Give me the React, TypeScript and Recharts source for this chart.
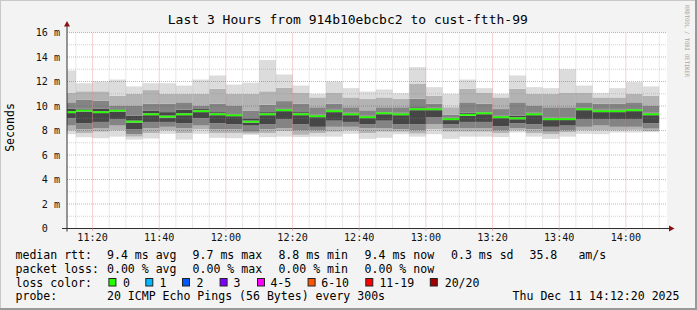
import React from 'react';
import { ComposedChart, Bar, XAxis, YAxis, CartesianGrid, ReferenceLine, ReferenceDot } from 'recharts';

// ---------- data ----------
const SLOT_STARTS = ["11:10","11:15","11:20","11:25","11:30","11:35","11:40","11:45","11:50","11:55",
  "12:00","12:05","12:10","12:15","12:20","12:25","12:30","12:35","12:40","12:45","12:50","12:55",
  "13:00","13:05","13:10","13:15","13:20","13:25","13:30","13:35","13:40","13:45","13:50","13:55",
  "14:00","14:05"];

const MAX_V = [12.9, 11.86, 12.0, 12.16, 11.6, 11.86, 11.86, 11.67, 12.16, 12.49, 11.75, 11.9, 13.75, 12.57, 11.67, 11.0, 12.0, 11.46, 11.18, 11.35, 11.05, 13.17, 11.54, 11.0, 12.16, 11.46, 11.0, 12.49, 11.54, 11.46, 13.0, 11.67, 11.07, 11.46, 11.95, 11.6];
const HI1 = [11.1, 11.2, 11.2, 10.85, 11.0, 11.3, 11.0, 11.0, 11.0, 11.4, 11.0, 11.0, 11.2, 11.5, 11.1, 10.7, 11.1, 10.7, 10.6, 10.7, 10.6, 11.8, 10.85, 9.9, 11.4, 11.1, 10.7, 11.4, 11.0, 11.0, 11.1, 11.1, 10.7, 10.7, 11.0, 10.85];
const HI2 = [10.3, 10.5, 10.45, 10.0, 10.0, 10.2, 10.2, 10.3, 10.0, 10.2, 10.0, 9.6, 10.1, 10.4, 10.2, 9.9, 10.2, 9.9, 9.65, 9.9, 9.9, 10.6, 10.2, 9.3, 10.3, 10.2, 9.75, 10.3, 10.0, 9.9, 9.9, 10.3, 10.2, 10.2, 10.3, 10.0];
const HI3 = [9.8, 9.8, 9.8, 9.75, 9.2, 9.6, 9.5, 9.7, 9.75, 9.5, 9.4, 9.0, 9.5, 9.8, 9.5, 9.3, 9.7, 9.45, 9.2, 9.5, 9.45, 9.9, 9.85, 9.05, 9.45, 9.5, 9.2, 9.2, 9.45, 9.05, 9.05, 9.85, 9.7, 9.7, 9.75, 9.45];
const MEDIAN = [9.5, 9.63, 9.5, 9.63, 8.73, 9.33, 9.14, 9.33, 9.58, 9.33, 9.25, 8.73, 9.33, 9.66, 9.33, 9.17, 9.58, 9.33, 9.09, 9.41, 9.33, 9.74, 9.74, 8.93, 9.28, 9.41, 9.09, 9.0, 9.33, 8.93, 8.93, 9.74, 9.58, 9.58, 9.66, 9.33];
const LO3 = [9.0, 8.6, 8.7, 8.9, 8.1, 8.7, 8.7, 8.6, 9.0, 8.6, 8.5, 8.4, 8.5, 8.9, 8.5, 8.3, 8.8, 8.7, 8.5, 8.8, 8.5, 8.5, 9.1, 8.5, 8.7, 8.7, 8.35, 8.6, 8.5, 8.3, 8.4, 8.9, 8.9, 8.9, 8.9, 8.6];
const LO2 = [8.4, 8.1, 8.2, 8.4, 7.7, 8.2, 8.3, 8.2, 8.4, 8.1, 8.1, 7.9, 8.1, 8.2, 8.0, 8.0, 8.3, 8.3, 8.2, 8.2, 8.1, 8.0, 8.5, 8.2, 8.2, 8.2, 8.0, 8.2, 8.1, 7.9, 8.0, 8.3, 8.4, 8.3, 8.3, 8.15];
const LO1 = [8.0, 7.8, 7.9, 8.0, 7.5, 7.8, 8.0, 7.8, 8.1, 7.8, 7.8, 7.75, 7.8, 7.95, 7.65, 7.8, 7.9, 8.0, 7.8, 7.9, 7.9, 7.75, 8.1, 7.9, 7.9, 7.9, 7.8, 8.0, 7.8, 7.7, 7.85, 8.0, 8.0, 8.0, 8.05, 7.95];
const MIN_V = [7.7, 7.45, 7.37, 7.5, 7.26, 7.35, 7.73, 7.26, 7.73, 7.4, 7.37, 7.65, 7.46, 7.5, 7.46, 7.5, 7.5, 7.73, 7.32, 7.4, 7.7, 7.5, 7.7, 7.32, 7.5, 7.5, 7.46, 7.84, 7.5, 7.32, 7.5, 7.73, 7.7, 7.84, 7.84, 7.86];

const X_TICK_LABELS = ["11:20","11:40","12:00","12:20","12:40","13:00","13:20","13:40","14:00"];
const Y_TICKS = [0, 2, 4, 6, 8, 10, 12, 14, 16];
const Y_MINOR = [1, 3, 5, 7, 9, 11, 13, 15];
const RANGE_START = "11:12:20";
const RANGE_END = "14:12:20";
const STEP_MIN = 5;

const TITLE = "Last 3 Hours from 914b10ebcbc2 to cust-ftth-99";
const RTT_LABEL = "median rtt:";
const RTT_STATS = ["9.4 ms avg", "9.7 ms max", "8.8 ms min", "9.4 ms now", "0.3 ms sd", "35.8", "am/s"];
const LOSS_LABEL = "packet loss:";
const LOSS_STATS = ["0.00 % avg", "0.00 % max", "0.00 % min", "0.00 % now"];
const COLOR_LABEL = "loss color:";
const LOSS_LABELS = ["0", "1", "2", "3", "4-5", "6-10", "11-19", "20/20"];
const LOSS_COLORS = ["#26ff00", "#00b8ff", "#0059ff", "#7e00ff", "#ff00ff", "#ff5500", "#ff0000", "#a00000"];
const PROBE_LABEL = "probe:";
const PROBE_TEXT = "20 ICMP Echo Pings (56 Bytes) every 300s";
const DATE_TEXT = "Thu Dec 11 14:12:20 2025";
const WATERMARK = "RRDTOOL / TOBI OETIKER";

// ---------- layout / style ----------
const W = 697, H = 310;
const M_TOP = 32.5, M_RIGHT = 30, Y_AXIS_W = 67, X_AXIS_H = 81.5;
const PLOT_W = W - Y_AXIS_W - M_RIGHT;
const MONO = '"DejaVu Sans Mono", monospace';
const C1 = '#dcdcdc', C2 = '#b3b3b3', C3 = '#848484', C4 = '#464646', GREEN = '#26ff00';
const AXIS = '#303030', ARROW = '#8a1010';
const MINOR_GRID = 'rgba(140,140,140,0.38)';
const MAJOR_GRID = 'rgba(210,40,40,0.42)';
const MEDIAN_W = 0.16;

const toMin = (s: string) => {
  const p = s.split(':').map(Number);
  return (p[0] - 11) * 60 + p[1] + (p[2] || 0) / 60;
};
const X0 = toMin(RANGE_START), X1 = toMin(RANGE_END);
const X_TICKS = X_TICK_LABELS.map(toMin);
const X_MINOR: number[] = [];
for (let m = Math.ceil(X0 / STEP_MIN) * STEP_MIN; m <= X1; m += STEP_MIN) {
  if (!X_TICKS.includes(m)) X_MINOR.push(m);
}
// slightly under the band size so Recharts keeps the explicit size
const BAR_W = PLOT_W * STEP_MIN / (X1 - X0) - 0.02;

const data = SLOT_STARTS.map((s, i) => {
  const gLo = MEDIAN[i] - MEDIAN_W / 2, gHi = MEDIAN[i] + MEDIAN_W / 2;
  return {
    t: toMin(s) + STEP_MIN / 2,
    base: MIN_V[i],
    a1: LO1[i] - MIN_V[i],
    a2: LO2[i] - LO1[i],
    a3: LO3[i] - LO2[i],
    a4: Math.max(0, gLo - LO3[i]),
    g: MEDIAN_W,
    b4: Math.max(0, HI3[i] - gHi),
    b3: HI2[i] - HI3[i],
    b2: HI1[i] - HI2[i],
    b1: MAX_V[i] - HI1[i],
  };
});

const fmtX = (v: number) => X_TICK_LABELS[X_TICKS.indexOf(v)] ?? '';

const YTick = (p: any) => {
  const v = p.payload.value;
  const label = v === 0 ? '0  ' : `${v} m`;
  return (
    <text x={p.x} y={p.y} dy="0.36em" textAnchor="end" fontFamily={MONO} fontSize={10.1}
      fill="#111" style={{ whiteSpace: 'pre' }} xmlSpace="preserve">{label}</text>
  );
};

const YArrow = (p: any) => {
  const { cx, cy } = p;
  return (
    <g>
      <line x1={cx} y1={cy} x2={cx} y2={cy - 7} stroke={AXIS} strokeWidth={1} />
      <polygon points={`${cx - 3},${cy - 6} ${cx + 3},${cy - 6} ${cx},${cy - 11.5}`} fill={ARROW} />
    </g>
  );
};
const XArrow = (p: any) => {
  const { cx, cy } = p;
  return (
    <g>
      <line x1={cx} y1={cy} x2={cx + 3} y2={cy} stroke={AXIS} strokeWidth={1} />
      <polygon points={`${cx + 2},${cy - 3} ${cx + 2},${cy + 3} ${cx + 7.5},${cy}`} fill={ARROW} />
    </g>
  );
};
const Origin = (p: any) => {
  const { cx, cy } = p;
  return (
    <g>
      <line x1={cx - 5} y1={cy} x2={cx} y2={cy} stroke={AXIS} strokeWidth={1} />
      <line x1={cx} y1={cy} x2={cx} y2={cy + 3} stroke={AXIS} strokeWidth={1} />
    </g>
  );
};

const segs: [string, string][] = [
  ['base', 'transparent'], ['a1', C1], ['a2', C2], ['a3', C3], ['a4', C4], ['g', GREEN],
  ['b4', C4], ['b3', C3], ['b2', C2], ['b1', C1],
];

const RTT_X = [107, 192.6, 278.4, 364.6, 451, 529.5, 578.4];
const LOSS_X = [107, 192.6, 278.4, 364.6];
const BOX_X = [108.4, 145.3, 182, 219.6, 257, 307.6, 365.3, 429.8];
const BOX_LABEL_X = [123, 159.4, 196.4, 233.4, 270.4, 321.2, 379.4, 444.7];
const ROW_Y = [258.5, 272.5, 286.5, 300];

export default function App() {
  const txt = (x: number, y: number, s: string, key?: any) => (
    <text key={key} x={x} y={y} fontFamily={MONO} fontSize={11.55} fill="#000"
      style={{ whiteSpace: 'pre' }} xmlSpace="preserve">{s}</text>
  );
  return (
    <div style={{ position: 'absolute', left: 0, top: 0, width: W, height: H, background: '#f3f3f3', overflow: 'hidden' }}>
      <div style={{ position: 'absolute', left: 0, top: 0 }}>
        <ComposedChart width={W} height={H} data={data} margin={{ top: M_TOP, right: M_RIGHT, left: 0, bottom: 0 }}
          barCategoryGap={0} barGap={0}>
          <CartesianGrid fill="#ffffff" horizontal={false} vertical={false} />
          <XAxis type="number" dataKey="t" domain={[X0, X1]} allowDataOverflow ticks={X_TICKS}
            tickFormatter={fmtX} height={X_AXIS_H} interval={0}
            axisLine={{ stroke: AXIS }} tickLine={{ stroke: '#e09a9a' }} tickSize={2} tickMargin={3.6}
            tick={{ fontFamily: MONO, fontSize: 10.1, fill: '#111' }} />
          <YAxis type="number" domain={[0, 16]} ticks={Y_TICKS} width={Y_AXIS_W} interval={0}
            axisLine={{ stroke: AXIS }} tickLine={false} tickSize={0} tickMargin={7} tick={<YTick />} />
          {segs.map(([k, c]) => (
            <Bar key={k} dataKey={k} stackId="s" fill={c} barSize={BAR_W} isAnimationActive={false} />
          ))}
          {Y_MINOR.map(v => <ReferenceLine key={'ym' + v} y={v} stroke={MINOR_GRID} strokeDasharray="1 1" />)}
          {X_MINOR.map(v => <ReferenceLine key={'xm' + v} x={v} stroke={MINOR_GRID} strokeDasharray="1 1" />)}
          {Y_TICKS.filter(v => v > 0).map(v => <ReferenceLine key={'yM' + v} y={v} stroke={MAJOR_GRID} strokeDasharray="1 1" />)}
          {X_TICKS.map(v => <ReferenceLine key={'xM' + v} x={v} stroke={MAJOR_GRID} strokeDasharray="1 1" />)}
          <ReferenceDot x={X0} y={16} r={3} shape={<YArrow />} />
          <ReferenceDot x={X1} y={0} r={3} shape={<XArrow />} />
          <ReferenceDot x={X0} y={0} r={3} shape={<Origin />} />
        </ComposedChart>
      </div>
      <svg width={W} height={H} style={{ position: 'absolute', left: 0, top: 0, pointerEvents: 'none' }}>
        <rect x={0} y={0} width={W} height={1} fill="#c8c8c8" />
        <rect x={0} y={0} width={1} height={H} fill="#c8c8c8" />
        <rect x={W - 2} y={0} width={2} height={H} fill="#999999" />
        <rect x={0} y={H - 2} width={W} height={2} fill="#999999" />
        <text x={347.8} y={24} textAnchor="middle" fontFamily={MONO} fontSize={13} fill="#000">{TITLE}</text>
        <text x={14} y={127.5} textAnchor="middle" fontFamily={MONO} fontSize={11.55} fill="#000"
          transform="rotate(-90 14 127.5)">Seconds</text>
        <g transform="translate(684.6 5) rotate(90)">
          <text x={0} y={0} fontFamily={MONO} fontSize={6} fill="#a8a8a8" textLength={72}
            lengthAdjust="spacingAndGlyphs">{WATERMARK}</text>
        </g>
        {txt(15.5, ROW_Y[0], RTT_LABEL)}
        {RTT_STATS.map((s, i) => txt(RTT_X[i], ROW_Y[0], s, 'r' + i))}
        {txt(15.5, ROW_Y[1], LOSS_LABEL)}
        {LOSS_STATS.map((s, i) => txt(LOSS_X[i], ROW_Y[1], s, 'l' + i))}
        {txt(15.5, ROW_Y[2], COLOR_LABEL)}
        {LOSS_LABELS.map((s, i) => (
          <g key={'c' + i}>
            <rect x={BOX_X[i] + 0.5} y={ROW_Y[2] - 8} width={7} height={7.5} fill={LOSS_COLORS[i]} stroke="#222" strokeWidth={1} />
            {txt(BOX_LABEL_X[i], ROW_Y[2], s)}
          </g>
        ))}
        {txt(15.5, ROW_Y[3], PROBE_LABEL)}
        {txt(107, ROW_Y[3], PROBE_TEXT)}
        {txt(512.6, ROW_Y[3], DATE_TEXT)}
      </svg>
    </div>
  );
}
